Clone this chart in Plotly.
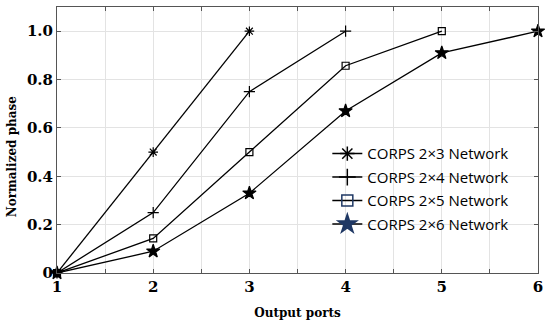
import plotly.graph_objects as go

# output port index
ports = [1, 2, 3, 4, 5, 6]

# normalized phase per network
corps_2x3 = [0, 0.5, 1.0]
corps_2x4 = [0, 0.25, 0.75, 1.0]
corps_2x5 = [0, 0.143, 0.5, 0.857, 1.0]
corps_2x6 = [0, 0.09, 0.33, 0.67, 0.91, 1.0]

names = ["CORPS 2×3 Network", "CORPS 2×4 Network", "CORPS 2×5 Network", "CORPS 2×6 Network"]
series = [corps_2x3, corps_2x4, corps_2x5, corps_2x6]
symbols = ["asterisk-open", "cross-thin-open", "square-open", "star"]
sizes = [8, 8, 7, 10]
legend_colors = ["black", "black", "#1f3864", "#1f3864"]

yticks = [0, 0.2, 0.4, 0.6, 0.8, 1.0]
ytext = ["0", "0.2", "0.4", "0.6", "0.8", "1.0"]
xticks = [1, 1.5, 2, 2.5, 3, 3.5, 4, 4.5, 5, 5.5, 6]
xtext = ["1", "", "2", "", "3", "", "4", "", "5", "", "6"]

fig = go.Figure()
for name, vals, sym, sz in zip(names, series, symbols, sizes):
    fig.add_trace(go.Scatter(
        x=ports[:len(vals)], y=vals, mode="lines+markers", name=name,
        line=dict(color="black", width=1.3),
        marker=dict(symbol=sym, size=sz, color="black",
                    line=dict(color="black", width=1.2)),
        showlegend=False, cliponaxis=False))

# legend entries (coloured markers like the original figure)
for i, (name, sym, sz, col) in enumerate(zip(names, symbols, sizes, legend_colors)):
    fig.add_trace(go.Scatter(
        x=[None], y=[None], mode="lines+markers", name=name, legendgroup=str(i),
        line=dict(color="black", width=1.5),
        marker=dict(symbol=sym, size=sz + 4, color=col,
                    line=dict(color=col, width=1.5))))

serif = "DejaVu Serif"
fig.update_layout(
    width=550, height=324,
    margin=dict(l=57, r=12, t=7, b=51),
    plot_bgcolor="white", paper_bgcolor="white",
    showlegend=True,
    legend=dict(x=0.562, y=0.51, xanchor="left", yanchor="top",
                bgcolor="rgba(0,0,0,0)", borderwidth=0,
                font=dict(family="Open Sans", size=15, color="black"),
                tracegroupgap=1, itemwidth=30),
    xaxis=dict(
        range=[1, 6], tickvals=xticks, ticktext=xtext, automargin=False,
        ticklabeloverflow="allow",
        showgrid=True, gridcolor="#e3e3e3", gridwidth=1,
        ticks="inside", ticklen=4, tickcolor="#555", mirror="ticks",
        showline=True, linecolor="#555", linewidth=1, zeroline=False,
        tickfont=dict(family=serif, size=15, color="black", weight="bold"),
        title=dict(text="<b>Output ports</b>", standoff=13,
                   font=dict(family=serif, size=12, color="black"))),
    yaxis=dict(
        range=[0, 1.1], tickvals=yticks, ticktext=ytext, automargin=False,
        ticklabeloverflow="allow",
        showgrid=True, gridcolor="#e3e3e3", gridwidth=1,
        ticks="inside", ticklen=4, tickcolor="#555", mirror="ticks",
        showline=True, linecolor="#555", linewidth=1, zeroline=False,
        tickfont=dict(family=serif, size=15, color="black", weight="bold")),
    annotations=[dict(
        text="<b>Normalized phase</b>", textangle=-90,
        xref="paper", yref="paper", x=-0.093, y=0.44,
        xanchor="center", yanchor="middle", showarrow=False,
        font=dict(family=serif, size=12, color="black"))],
)

fig.write_html("out.html", config={"displayModeBar": False},
               post_script="document.body.style.margin='0';")
